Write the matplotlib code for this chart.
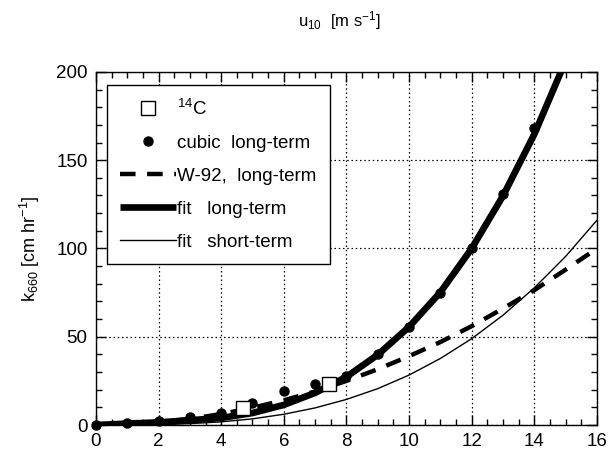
import numpy as np
import matplotlib
matplotlib.use("Agg")
import matplotlib.pyplot as plt
from matplotlib.ticker import MultipleLocator

plt.rcParams.update({
    'font.family': 'Liberation Sans',
    'mathtext.fontset': 'custom',
    'mathtext.rm': 'Liberation Sans',
    'mathtext.it': 'Liberation Sans',
    'font.size': 12,
})

# 14C points
c14_u = [4.7, 7.45]
c14_k = [9.6, 23.0]

# cubic long-term (dots)
cubic_u = [0, 1, 2, 3, 4, 5, 6, 7, 8, 9, 10, 11, 12, 13, 14]
cubic_k = [0, 1, 2, 4.5, 7, 12.5, 19, 23, 28, 40, 55.5, 75, 100, 131, 168]

# W-92 long-term (dashed)
w92_u = [0, 1, 2, 3, 4, 5, 6, 7, 8, 9, 10, 11, 12, 13, 14, 15, 16]
w92_k = [0, 0.4, 1.6, 3.5, 6.2, 9.8, 14, 19, 25, 31.6, 39, 47, 56, 66, 76.4, 88, 100]

# fit long-term (thick)
fitl_u = [0, 1, 2, 3, 4, 5, 6, 7, 8, 9, 10, 11, 12, 13, 14, 14.85]
fitl_k = [0, 0.8, 1.5, 2.7, 4.0, 6.8, 11.4, 18.2, 27.3, 39.8, 55.6, 75.2, 100, 129.8, 164.7, 200]

# fit short-term (thin)
fits_u = [0, 1, 2, 3, 4, 5, 6, 7, 8, 9, 10, 11, 12, 13, 14, 15, 16]
fits_k = [0, 0.1, 0.3, 0.8, 1.8, 3.5, 6.1, 9.7, 14.5, 20.6, 28.3, 37.7, 48.9, 62.2, 77.7, 95.5, 116]

fig = plt.figure(figsize=(6.11, 4.58), dpi=100)
ax = fig.add_axes([0.157, 0.072, 0.82, 0.771])

ax.plot(fits_u, fits_k, color='black', lw=1.0, label='fit   short-term', zorder=3)
ax.plot(w92_u, w92_k, color='black', lw=3.2, dashes=(3.5, 2.6), label='W-92,  long-term', zorder=4)
ax.plot(fitl_u, fitl_k, color='black', lw=4.8, solid_capstyle='butt', label='fit   long-term', zorder=5)
ax.plot(cubic_u, cubic_k, 'o', color='black', ms=6.5, label='cubic  long-term', zorder=6, clip_on=False)
ax.plot(c14_u, c14_k, 's', mfc='white', mec='black', mew=1.0, ms=10,
        label=r'$^{14}$C', zorder=7)

ax.set_xlim(0, 16)
ax.set_ylim(0, 200)
ax.xaxis.set_major_locator(MultipleLocator(2))
ax.xaxis.set_minor_locator(MultipleLocator(0.5))
ax.yaxis.set_major_locator(MultipleLocator(50))
ax.yaxis.set_minor_locator(MultipleLocator(10))
ax.tick_params(which='both', direction='in', top=True, right=True, width=1)
ax.tick_params(which='major', length=7, labelsize=13.5, pad=6)
ax.tick_params(which='minor', length=4)
ax.grid(True, which='major', color='black', ls=(0, (1.2, 2.2)), lw=0.9)
for s in ax.spines.values():
    s.set_linewidth(1.0)

h, l = ax.get_legend_handles_labels()
order = [4, 3, 1, 2, 0]
leg = ax.legend([h[i] for i in order], [l[i] for i in order],
                loc='upper left', bbox_to_anchor=(0.022, 0.962),
                fancybox=False, framealpha=1, edgecolor='black',
                handlelength=3.0, labelspacing=0.85, borderpad=0.7,
                handletextpad=0.05, fontsize=13.5, borderaxespad=0)
leg.get_frame().set_linewidth(1.0)

fig.text(0.556, 0.955, r'u$_{10}$  [m s$^{-1}$]', ha='center', va='center', fontsize=12)
ax.set_ylabel(r'k$_{660}$ [cm hr$^{-1}$]', fontsize=13, labelpad=10)

fig.savefig('out.png', dpi=100)
